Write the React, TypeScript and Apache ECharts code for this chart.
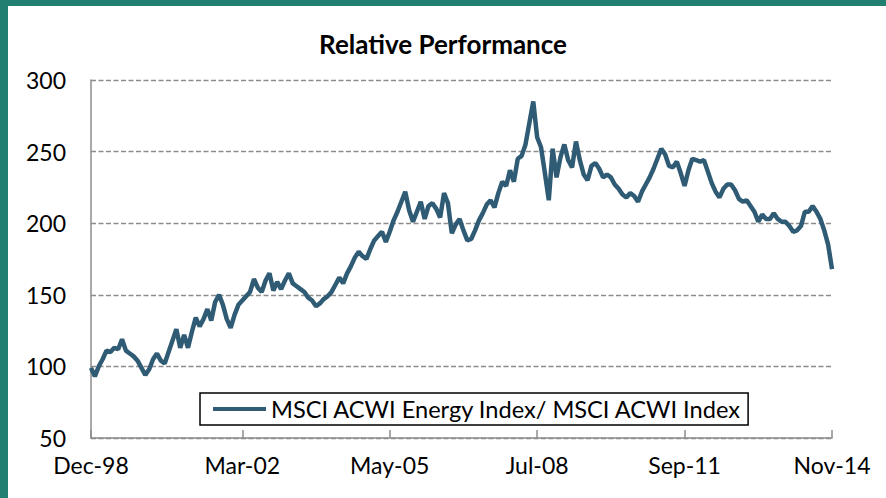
import React, { useEffect, useRef } from "react";
import * as echarts from "echarts";

const startYear = 1998;
const startMonth = 11; // December (0-based)
const monthNames = ["Jan", "Feb", "Mar", "Apr", "May", "Jun", "Jul", "Aug", "Sep", "Oct", "Nov", "Dec"];

const relativePerformance = [
  99, 93, 100, 105, 111, 110, 113, 112, 119, 111, 109, 107, 104, 99, 94, 98,
  105, 109, 104, 102, 110, 118, 126, 113, 122, 113, 124, 134, 128, 133, 140, 132,
  145, 150, 143, 133, 127, 136, 143, 146, 149, 152, 161, 155, 152, 160, 165, 153,
  159, 154, 160, 165, 158, 156, 154, 152, 148, 146, 142, 144, 147, 149, 152, 157,
  162, 158, 165, 170, 176, 180, 177, 175, 182, 188, 191, 194, 187, 194, 202, 208,
  215, 222, 209, 201, 208, 215, 203, 212, 214, 210, 204, 221, 214, 193, 199, 203,
  195, 188, 189, 195, 202, 207, 213, 216, 211, 221, 229, 226, 237, 229, 245, 247,
  255, 270, 285, 260, 253, 235, 216, 252, 232, 246, 255, 244, 239, 257, 244, 234,
  230, 240, 242, 238, 232, 234, 232, 227, 224, 220, 218, 221, 219, 215, 222, 227,
  232, 238, 245, 252, 248, 240, 239, 243, 235, 226, 237, 245, 244, 243, 244, 236,
  228, 222, 218, 224, 227, 227, 223, 217, 215, 216, 212, 208, 201, 206, 203, 203,
  207, 203, 201, 201, 198, 194, 195, 198, 208, 208, 212, 208, 203, 195, 185, 168,
];

const categories = relativePerformance.map((_, i) => {
  const total = startMonth + i;
  const y = startYear + Math.floor(total / 12);
  const m = total % 12;
  return `${monthNames[m]}-${String(y % 100).padStart(2, "0")}`;
});

const tickIndices = [0, 39, 77, 115, 153, 191];
const yTicks = { min: 50, max: 300, interval: 50 };
const seriesName = "MSCI ACWI Energy Index/ MSCI ACWI Index";

export default function App() {
  const ref = useRef<HTMLDivElement>(null);
  useEffect(() => {
    document.body.style.margin = "0";
    const chart = echarts.init(ref.current!, null, { renderer: "svg" });
    const font = "Lato, 'Open Sans', sans-serif";
    chart.setOption({
      animation: false,
      backgroundColor: "#ffffff",
      textStyle: { fontFamily: font },
      title: {
        text: "Relative Performance",
        left: "center",
        top: 26,
        textStyle: { fontFamily: font, fontWeight: "bold", fontSize: 26, color: "#000" },
      },
      graphic: [
        { type: "rect", left: 0, top: 0, shape: { width: 8, height: 498 }, style: { fill: "#217f72" } },
        { type: "rect", left: 0, top: 0, shape: { width: 886, height: 6 }, style: { fill: "#217f72" } },
      ],
      legend: {
        left: 200,
        top: 393,
        padding: [4, 6, 4, 13],
        borderColor: "#000",
        borderWidth: 1.5,
        icon: "rect",
        itemWidth: 53,
        itemHeight: 4,
        textStyle: { fontFamily: font, fontSize: 23.6, color: "#000" },
        data: [seriesName],
      },
      grid: { left: 91, right: 54, top: 80, bottom: 60, containLabel: false },
      xAxis: {
        type: "category",
        data: categories,
        boundaryGap: false,
        axisLine: { lineStyle: { color: "#8c8c8c", width: 1.5 } },
        axisTick: {
          inside: true,
          length: 8,
          interval: (i: number) => tickIndices.includes(i),
          lineStyle: { color: "#8c8c8c", width: 1.5 },
        },
        axisLabel: {
          interval: (i: number) => tickIndices.includes(i),
          margin: 15,
          fontSize: 23,
          color: "#000",
          fontFamily: font,
        },
        splitLine: { show: false },
      },
      yAxis: {
        type: "value",
        min: yTicks.min,
        max: yTicks.max,
        interval: yTicks.interval,
        axisLine: { show: true, lineStyle: { color: "#8c8c8c", width: 1.5 } },
        axisTick: { show: false },
        axisLabel: { fontSize: 23, color: "#000", margin: 25, fontFamily: font },
        splitLine: { lineStyle: { color: "#8c8c8c", width: 1.3, type: [5, 2.5] } },
      },
      series: [
        {
          name: seriesName,
          type: "line",
          data: relativePerformance,
          symbol: "none",
          lineStyle: { color: "#2f5b75", width: 4.5 },
          itemStyle: { color: "#2f5b75" },
        },
      ],
    });
    return () => chart.dispose();
  }, []);
  return <div ref={ref} style={{ width: 886, height: 498 }} />;
}
